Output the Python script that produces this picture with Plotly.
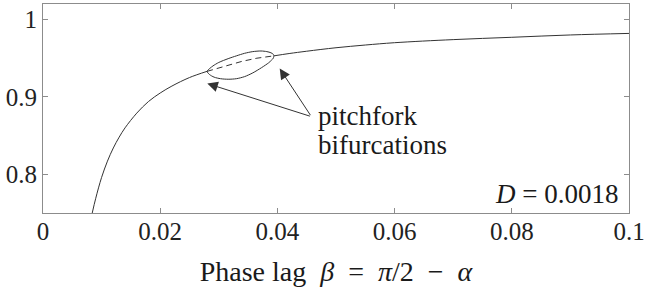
import plotly.graph_objects as go

# main branch (solid, left of the loop)
left_x = [0.0084, 0.009, 0.010, 0.011, 0.012, 0.013, 0.014, 0.016, 0.018, 0.020, 0.022, 0.025, 0.028]
left_y = [0.750, 0.769, 0.796, 0.817, 0.834, 0.848, 0.860, 0.879, 0.894, 0.905, 0.914, 0.925, 0.933]
# unstable part of main branch (dashed)
mid_x = [0.028, 0.031, 0.034, 0.0365, 0.0394]
mid_y = [0.933, 0.940, 0.946, 0.950, 0.953]
# main branch (solid, right of the loop)
right_x = [0.0394, 0.042, 0.045, 0.050, 0.055, 0.060, 0.070, 0.080, 0.090, 0.100]
right_y = [0.953, 0.956, 0.959, 0.9635, 0.967, 0.970, 0.974, 0.977, 0.980, 0.982]
# bifurcated loop
upper_x = [0.028, 0.0285, 0.029, 0.030, 0.0316, 0.033, 0.0344, 0.0358, 0.0372, 0.0382, 0.0389, 0.0393, 0.0394]
upper_y = [0.933, 0.937, 0.940, 0.9445, 0.9494, 0.953, 0.9563, 0.9585, 0.9593, 0.9585, 0.957, 0.955, 0.953]
lower_x = [0.028, 0.0284, 0.0292, 0.0303, 0.0316, 0.033, 0.0344, 0.0358, 0.0373, 0.0385, 0.039, 0.0393, 0.0394]
lower_y = [0.933, 0.929, 0.9255, 0.9235, 0.9228, 0.9235, 0.9262, 0.931, 0.9378, 0.944, 0.9475, 0.950, 0.953]

x_ticks = [0, 0.02, 0.04, 0.06, 0.08, 0.1]
x_ticktext = ["0", "0.02", "0.04", "0.06", "0.08", "0.1"]
y_ticks = [0.8, 0.9, 1.0]
y_ticktext = ["0.8", "0.9", "1"]

FONT = "Liberation Serif"
LC = "#333333"
AX = "#8c8c8c"
TXT = "#1a1a1a"

fig = go.Figure()
fig.add_trace(go.Scatter(x=left_x, y=left_y, mode="lines", line=dict(color=LC, width=1, shape="spline")))
fig.add_trace(go.Scatter(x=mid_x, y=mid_y, mode="lines", line=dict(color=LC, width=1, dash="6px,4px")))
fig.add_trace(go.Scatter(x=right_x, y=right_y, mode="lines", line=dict(color=LC, width=1, shape="spline")))
fig.add_trace(go.Scatter(x=upper_x + lower_x[::-1], y=upper_y + lower_y[::-1], mode="lines",
                         line=dict(color=LC, width=1, shape="spline", smoothing=0.8)))

tail_x, tail_y = 0.0458, 0.8745
fig.add_annotation(x=0.02804, y=0.9172, ax=tail_x, ay=tail_y, axref="x", ayref="y",
                   showarrow=True, arrowhead=2, arrowsize=2.1, arrowwidth=1, arrowcolor="#333", text="")
fig.add_annotation(x=0.04039, y=0.9366, ax=tail_x, ay=tail_y, axref="x", ayref="y",
                   showarrow=True, arrowhead=2, arrowsize=2.1, arrowwidth=1, arrowcolor="#333", text="")
fig.add_annotation(x=0.0466, y=0.8752, text="pitchfork", showarrow=False, xanchor="left", yanchor="middle",
                   font=dict(family=FONT, size=27, color=TXT))
fig.add_annotation(x=0.0466, y=0.8378, text="bifurcations", showarrow=False, xanchor="left", yanchor="middle",
                   font=dict(family=FONT, size=27, color=TXT))
fig.add_annotation(x=0.0984, y=0.7748, text="<i>D</i> = 0.0018", showarrow=False, xanchor="right", yanchor="middle",
                   font=dict(family=FONT, size=27, color=TXT))

axis_common = dict(showline=True, linecolor=AX, linewidth=1, mirror="ticks", ticks="inside", ticklen=5,
                   tickcolor=AX, tickwidth=1, showgrid=False, zeroline=False, automargin=False,
                   tickfont=dict(family=FONT, size=25, color="#222"))
fig.update_xaxes(range=[0, 0.1], tickvals=x_ticks, ticktext=x_ticktext, ticklabelstandoff=-4,
                 title=dict(text="Phase lag  <i>β</i>  =  <i>π</i>/2  −  <i>α</i>",
                            font=dict(family=FONT, size=28, color=TXT), standoff=19),
                 **axis_common)
fig.update_yaxes(range=[0.75, 1.02], tickvals=y_ticks, ticktext=y_ticktext, **axis_common)

fig.update_layout(width=649, height=287, margin=dict(l=43, r=20, t=4, b=74),
                  font=dict(family=FONT, size=25, color="#222"),
                  plot_bgcolor="white", paper_bgcolor="white", showlegend=False)
fig.write_html("out.html", config={"displayModeBar": False},
               post_script="document.body.style.margin='0';")
